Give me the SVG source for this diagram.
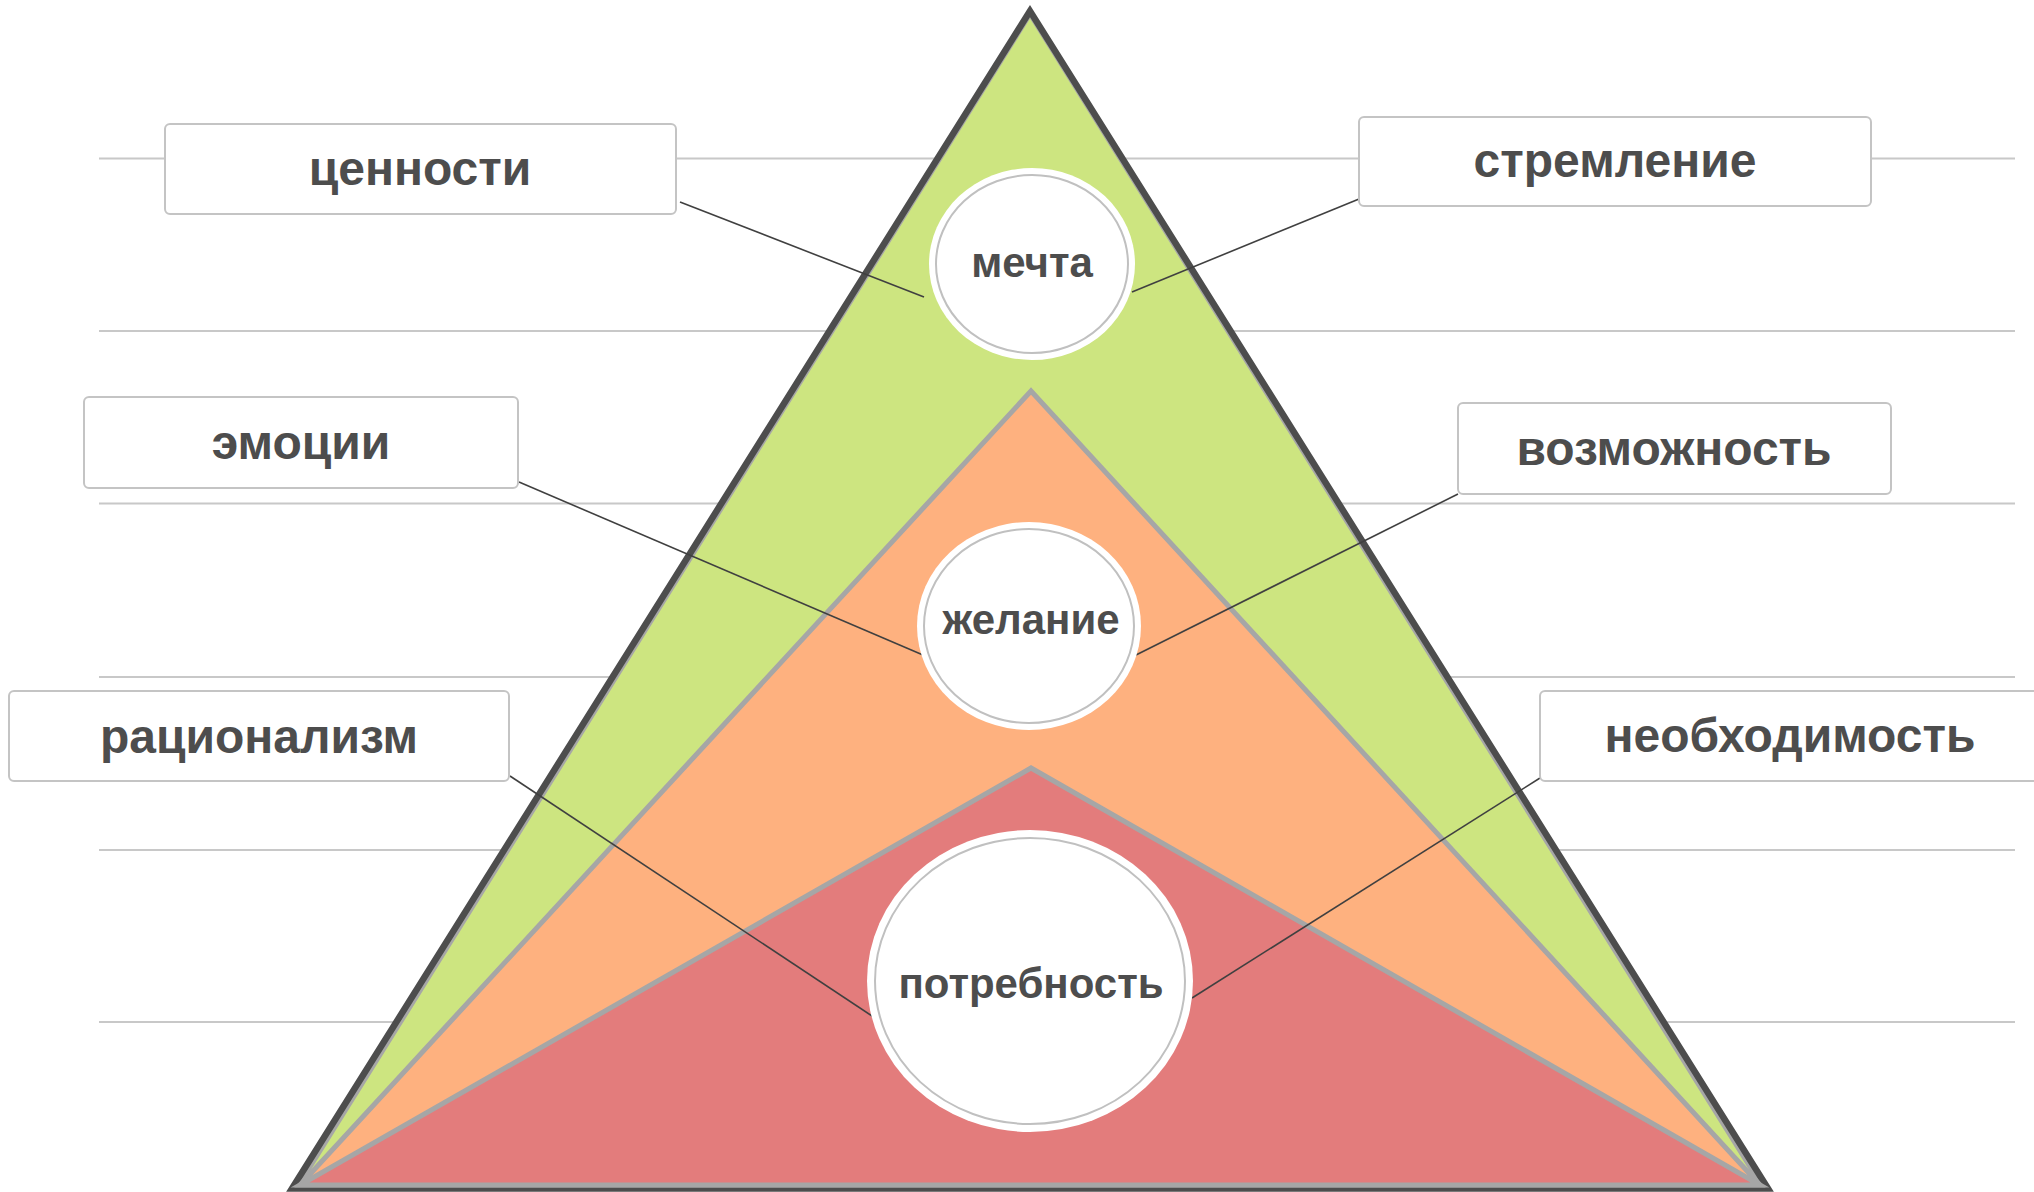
<svg xmlns="http://www.w3.org/2000/svg" width="2034" height="1192" viewBox="0 0 2034 1192">
<style>
.grid{stroke:#c8c8c8;stroke-width:2;fill:none}
.box{fill:#ffffff;stroke:#c4c4c4;stroke-width:2}
.lbl{font-family:"Liberation Sans",Arial,sans-serif;font-weight:bold;font-size:48px;fill:#4d4d4d;text-anchor:middle}
.ctxt{font-family:"Liberation Sans",Arial,sans-serif;font-weight:bold;font-size:42px;fill:#4d4d4d;text-anchor:middle}
.layer{stroke:#a6a6a6;stroke-width:5;stroke-linejoin:miter}
.outer{fill:none;stroke:#4d4d4d;stroke-width:6.5;stroke-linejoin:miter;stroke-miterlimit:10}
.disc{fill:#ffffff}
.ring{fill:none;stroke:#c0c0c0;stroke-width:2}
.conn{stroke:#404040;stroke-width:1.6;fill:none}
</style>
<rect width="2034" height="1192" fill="#ffffff"/>
<g id="gridlines">
<line class="grid" x1="99" y1="158.5" x2="2015" y2="158.5"/>
<line class="grid" x1="99" y1="331" x2="2015" y2="331"/>
<line class="grid" x1="99" y1="503.5" x2="2015" y2="503.5"/>
<line class="grid" x1="99" y1="677" x2="2015" y2="677"/>
<line class="grid" x1="99" y1="850" x2="2015" y2="850"/>
<line class="grid" x1="99" y1="1022" x2="2015" y2="1022"/>
</g>
<g id="pyramid">
<polygon class="layer" fill="#cde580" points="1030,14 298,1186 1762,1186"/>
<polygon class="outer" points="1030,11 292,1188.5 1768,1188.5"/>
<polygon class="layer" fill="#feb17f" points="1031,391 300,1185 1760,1185"/>
<polygon class="layer" fill="#e37c7c" points="1031,768 300,1185 1760,1185"/>
</g>
<g id="connectors">
<line class="conn" x1="680" y1="202" x2="924" y2="297"/>
<line class="conn" x1="1359" y1="199" x2="1132" y2="292"/>
<line class="conn" x1="519" y1="482" x2="923" y2="655"/>
<line class="conn" x1="1458" y1="494" x2="1136" y2="655"/>
<line class="conn" x1="510" y1="776" x2="875" y2="1018"/>
<line class="conn" x1="1540" y1="778" x2="1192" y2="998"/>
</g>
<g id="node-mechta">
<ellipse class="disc" cx="1032" cy="264" rx="103" ry="96"/>
<ellipse class="ring" cx="1032" cy="264" rx="96" ry="89"/>
<text class="ctxt" x="1032" y="277">мечта</text>
</g>
<g id="node-zhelanie">
<ellipse class="disc" cx="1029" cy="626" rx="112" ry="104"/>
<ellipse class="ring" cx="1029" cy="626" rx="105" ry="97"/>
<text class="ctxt" x="1031" y="634">желание</text>
</g>
<g id="node-potrebnost">
<ellipse class="disc" cx="1030" cy="981" rx="163" ry="151"/>
<ellipse class="ring" cx="1030" cy="981" rx="155" ry="143"/>
<text class="ctxt" x="1031" y="998">потребность</text>
</g>
<g id="node-cennosti">
<rect class="box" x="165" y="124" width="511" height="90" rx="5"/>
<text class="lbl" x="420" y="185">ценности</text>
</g>
<g id="node-stremlenie">
<rect class="box" x="1359" y="117" width="512" height="89" rx="5"/>
<text class="lbl" x="1615" y="177">стремление</text>
</g>
<g id="node-emocii">
<rect class="box" x="84" y="397" width="434" height="91" rx="5"/>
<text class="lbl" x="301" y="459">эмоции</text>
</g>
<g id="node-vozmozhnost">
<rect class="box" x="1458" y="403" width="433" height="91" rx="5"/>
<text class="lbl" x="1674" y="465">возможность</text>
</g>
<g id="node-racionalizm">
<rect class="box" x="9" y="691" width="500" height="90" rx="5"/>
<text class="lbl" x="259" y="753">рационализм</text>
</g>
<g id="node-neobhodimost">
<rect class="box" x="1540" y="691" width="500" height="90" rx="5"/>
<text class="lbl" x="1790" y="752">необходимость</text>
</g>
</svg>
